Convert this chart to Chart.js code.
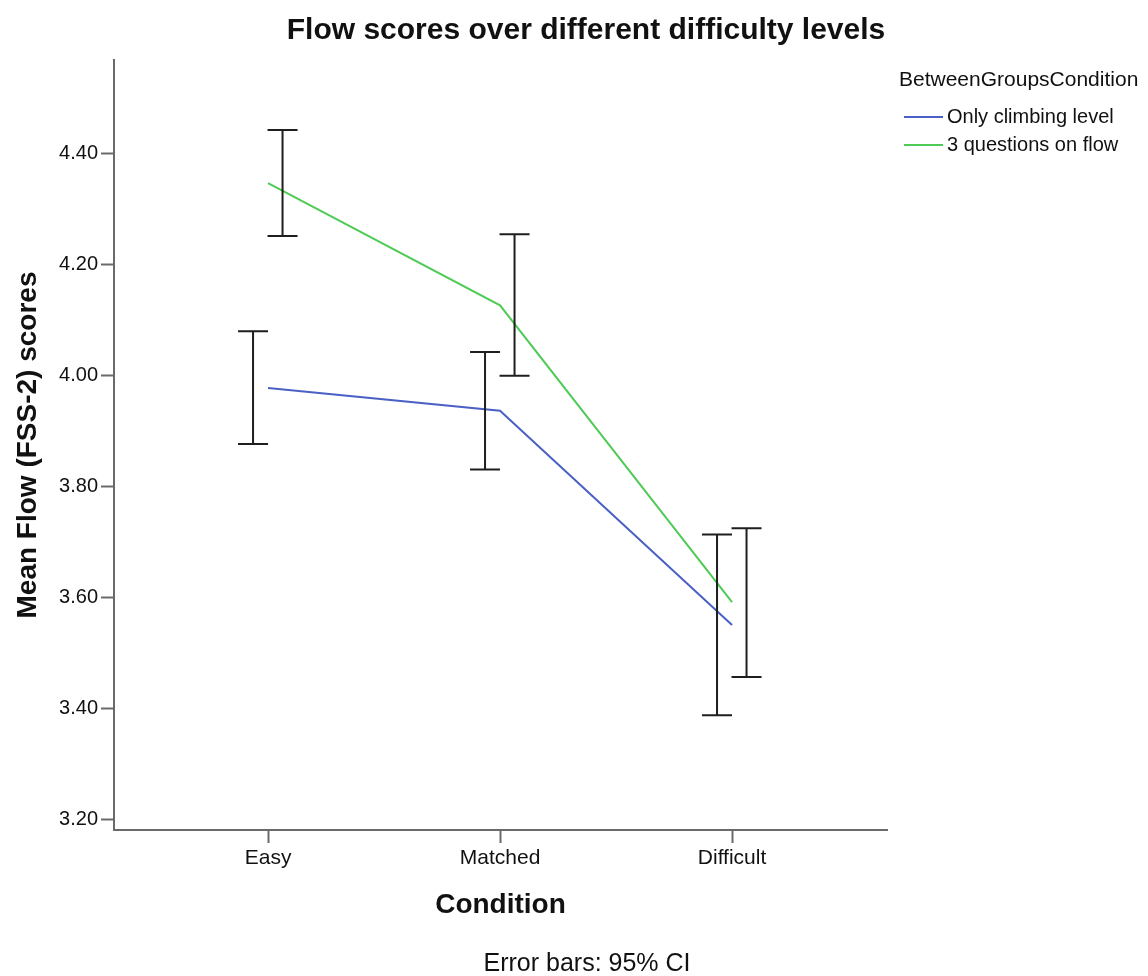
<!DOCTYPE html>
<html>
<head>
<meta charset="utf-8">
<script src="https://cdn.jsdelivr.net/npm/chart.js@4.4.1/dist/chart.umd.min.js"></script>
<style>
  html, body { margin: 0; padding: 0; background: #ffffff; }
  #wrap { width: 1148px; height: 976px; position: relative; }
</style>
</head>
<body>
<div id="wrap"><canvas id="flowChart" width="1148" height="976"></canvas></div>
<script>
// Condition levels on the x axis
const categories = ['Easy', 'Matched', 'Difficult'];

// Between-groups condition names
const groupNames = ['Only climbing level', '3 questions on flow'];

// Mean FSS-2 flow score per level, with 95% confidence interval bounds
const onlyClimbingMean = [3.978, 3.937, 3.551];
const onlyClimbingLow  = [3.877, 3.831, 3.388];
const onlyClimbingHigh = [4.080, 4.043, 3.714];

const questionsMean = [4.347, 4.127, 3.592];
const questionsLow  = [4.252, 4.000, 3.457];
const questionsHigh = [4.443, 4.255, 3.725];

// Y axis tick values
const yTicks = [3.20, 3.40, 3.60, 3.80, 4.00, 4.20, 4.40];

const FONT = "'Liberation Sans', Arial, Helvetica, sans-serif";
const AXIS_COLOR = '#6a6a6a';

function toPoints(values) {
  return values.map((v, i) => ({ x: i, y: v }));
}

// Whiskers for the confidence intervals, nudged sideways per group
const errorBarPlugin = {
  id: 'errorBars',
  afterDatasetsDraw(chart) {
    const ctx = chart.ctx;
    const xs = chart.scales.x;
    const ys = chart.scales.y;
    ctx.save();
    ctx.strokeStyle = '#1e1e1e';
    ctx.lineWidth = 2;
    chart.data.datasets.forEach((ds) => {
      ds.ciLow.forEach((lo, i) => {
        const hi = ds.ciHigh[i];
        const x = xs.getPixelForValue(i) + ds.barShift;
        const yLo = ys.getPixelForValue(lo);
        const yHi = ys.getPixelForValue(hi);
        const half = 15;
        ctx.beginPath();
        ctx.moveTo(x, yLo); ctx.lineTo(x, yHi);
        ctx.moveTo(x - half, yLo); ctx.lineTo(x + half, yLo);
        ctx.moveTo(x - half, yHi); ctx.lineTo(x + half, yHi);
        ctx.stroke();
      });
    });
    ctx.restore();
  }
};

// Titles, footnote and the group legend
const textPlugin = {
  id: 'chartTexts',
  afterDraw(chart) {
    const ctx = chart.ctx;
    const area = chart.chartArea;
    ctx.save();
    ctx.fillStyle = '#111111';

    ctx.font = 'bold 30px ' + FONT;
    ctx.textAlign = 'center';
    ctx.textBaseline = 'alphabetic';
    ctx.fillText('Flow scores over different difficulty levels', 586, 39);

    ctx.font = 'bold 28px ' + FONT;
    ctx.fillText('Condition', (area.left + area.right) / 2, 913);

    ctx.save();
    ctx.translate(28, (area.top + area.bottom) / 2);
    ctx.rotate(-Math.PI / 2);
    ctx.textBaseline = 'middle';
    ctx.fillText('Mean Flow (FSS-2) scores', 0, 0);
    ctx.restore();

    ctx.font = '25px ' + FONT;
    ctx.textBaseline = 'alphabetic';
    ctx.fillText('Error bars: 95% CI', 587, 971);

    // legend
    ctx.textAlign = 'left';
    ctx.font = '21px ' + FONT;
    ctx.textBaseline = 'middle';
    ctx.fillText('BetweenGroupsCondition', 899, 80);
    ctx.font = '20px ' + FONT;
    chart.data.datasets.forEach((ds, k) => {
      const y = 117 + k * 28;
      ctx.strokeStyle = ds.borderColor;
      ctx.lineWidth = 2;
      ctx.beginPath();
      ctx.moveTo(904, y); ctx.lineTo(943, y);
      ctx.stroke();
      ctx.fillText(ds.label, 947, y);
    });
    ctx.restore();
  }
};

new Chart(document.getElementById('flowChart'), {
  type: 'line',
  data: {
    datasets: [
      {
        label: groupNames[0],
        data: toPoints(onlyClimbingMean),
        ciLow: onlyClimbingLow,
        ciHigh: onlyClimbingHigh,
        barShift: -15,
        borderColor: '#4b60c4',
        borderWidth: 2,
        pointRadius: 0,
        tension: 0,
        fill: false
      },
      {
        label: groupNames[1],
        data: toPoints(questionsMean),
        ciLow: questionsLow,
        ciHigh: questionsHigh,
        barShift: 14.5,
        borderColor: '#4fcb55',
        borderWidth: 2,
        pointRadius: 0,
        tension: 0,
        fill: false
      }
    ]
  },
  options: {
    responsive: false,
    animation: false,
    layout: { padding: { top: 60, right: 261, bottom: 0, left: 0 } },
    plugins: {
      legend: { display: false },
      title: { display: false },
      tooltip: { enabled: false }
    },
    scales: {
      x: {
        type: 'linear',
        min: -0.664,
        max: 2.668,
        afterFit(scale) { scale.height = 146; },
        afterBuildTicks(scale) { scale.ticks = categories.map((c, i) => ({ value: i })); },
        ticks: {
          callback: (v) => categories[v],
          font: { family: FONT, size: 21 },
          color: '#111111',
          padding: 3,
          maxRotation: 0,
          autoSkip: false
        },
        grid: {
          drawOnChartArea: false,
          drawTicks: true,
          tickLength: 13,
          tickWidth: 2,
          tickColor: AXIS_COLOR
        },
        border: { display: true, color: AXIS_COLOR, width: 2 }
      },
      y: {
        type: 'linear',
        min: 3.1814,
        max: 4.569,
        afterFit(scale) { scale.width = 114; },
        afterBuildTicks(scale) { scale.ticks = yTicks.map((v) => ({ value: v })); },
        ticks: {
          callback: (v) => v.toFixed(2),
          font: { family: FONT, size: 20 },
          color: '#111111',
          padding: 3
        },
        grid: {
          drawOnChartArea: false,
          drawTicks: true,
          tickLength: 13,
          tickWidth: 2,
          tickColor: AXIS_COLOR
        },
        border: { display: true, color: AXIS_COLOR, width: 2 }
      }
    }
  },
  plugins: [errorBarPlugin, textPlugin]
});
</script>
</body>
</html>
